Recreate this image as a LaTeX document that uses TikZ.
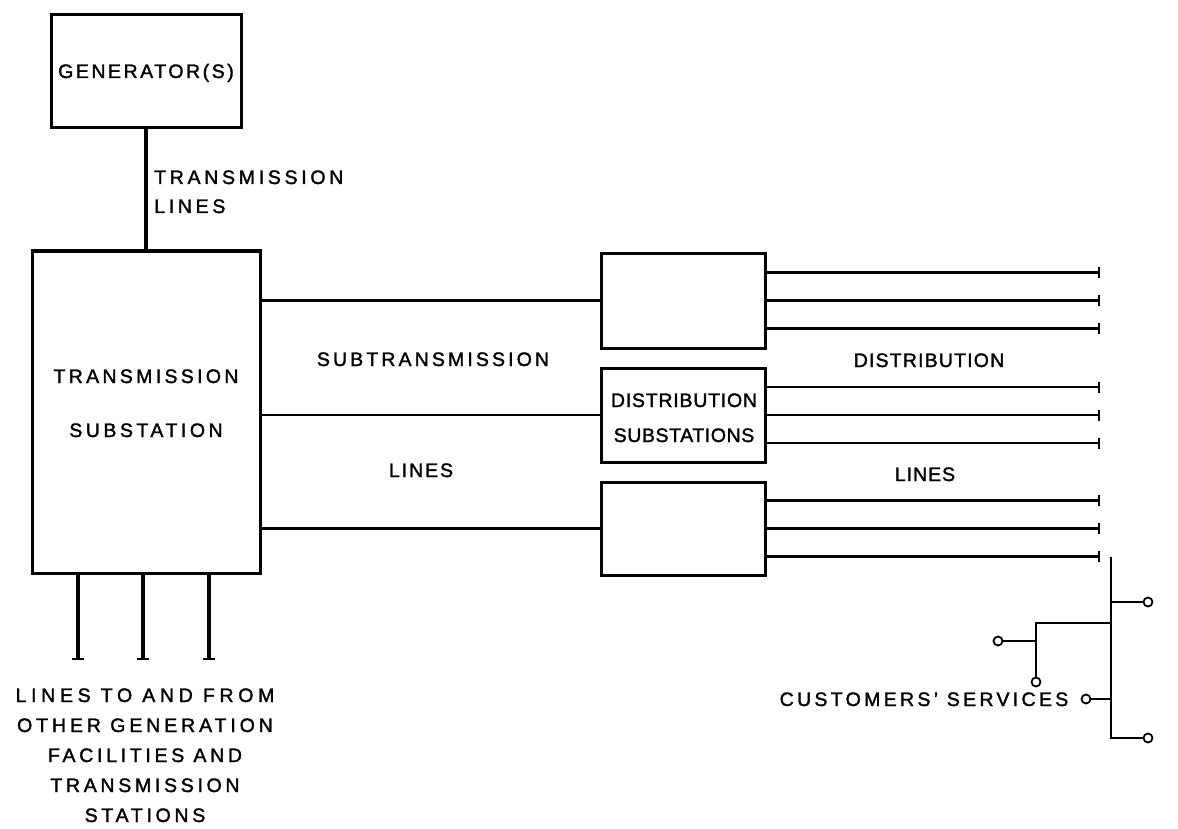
\documentclass[tikz,border=0pt]{standalone}
\usepackage{fontspec}
\setmainfont{Liberation Sans}[FakeBold=1.6]
\usetikzlibrary{arrows.meta}
\begin{document}
\begin{tikzpicture}[x=1pt,y=-1pt,
  box/.style={draw, line width=3pt, inner sep=0pt},
  wire/.style={line width=2.3pt},
  heavy/.style={line width=3.8pt},
  endbar/.style={wire, -{Bar[width=11pt,line width=2pt]}},
  footbar/.style={heavy, -{Bar[width=12pt,line width=2pt]}},
  lbl/.style={font=\fontsize{19.5}{24}\selectfont\addfontfeature{LetterSpace=#1},
              inner sep=0pt, anchor=base},
  lbl/.default=17,
  lblw/.style={lbl=#1, anchor=base west},
  lblw/.default=19,
  term/.style={circle, draw, line width=1.8pt, minimum size=9pt, inner sep=0pt}]
\useasboundingbox (0,0) rectangle (1178,829);

% boxes
\node[box, minimum width=190pt, minimum height=113pt] (gen) at (146,71) {};
\node[box, minimum width=228pt, minimum height=322pt] (tsub) at (146,412) {};
\node[box, minimum width=164pt, minimum height=95pt] (d1) at (683,300.5) {};
\node[box, minimum width=164pt, minimum height=94pt] (d2) at (683,415) {};
\node[box, minimum width=164pt, minimum height=93pt] (d3) at (683,528.5) {};

% box texts
\node[lbl=13] (genT) at (146,78) {GENERATOR(S)};
\node[lbl=17] (tsubA) at (146,383) {TRANSMISSION};
\node[lbl=18] (tsubB) at (146,437) {SUBSTATION};
\node[lbl=4] (d2A) at (684,407) {DISTRIBUTION};
\node[lbl=3] (d2B) at (684,442) {SUBSTATIONS};

% line labels
\node[lblw=19] (tlA) at (154,184) {TRANSMISSION};
\node[lblw=19] (tlB) at (154,213) {LINES};
\node[lbl=16] (subA) at (433,366) {SUBTRANSMISSION};
\node[lbl=10] (subB) at (421,477) {LINES};
\node[lbl=6] (disA) at (929,367) {DISTRIBUTION};
\node[lbl=5] (disB) at (925,481) {LINES};
\node[lbl=17] (cust) at (924,706) {CUSTOMERS' SERVICES};
\node[lbl=24] (oth1) at (145,702) {LINES TO AND FROM};
\node[lbl=20] (oth2) at (145,732) {OTHER GENERATION};
\node[lbl=19] (oth3) at (145,762) {FACILITIES AND};
\node[lbl=19] (oth4) at (145,792) {TRANSMISSION};
\node[lbl=19] (oth5) at (145,822) {STATIONS};

% generator to transmission substation
\draw[heavy] (gen.south) -- (tsub.north);

% subtransmission lines
\draw[wire] (tsub.east |- d1.west) -- (d1.west);
\draw[wire] (tsub.east |- d2.west) -- (d2.west);
\draw[wire] (tsub.east |- d3.west) -- (d3.west);

% lines to other stations
\coordinate (legbase) at (0,660);
\foreach \x [count=\i] in {78,143,209} {
  \coordinate (legtop\i) at (\x,573);
  \draw[footbar] (legtop\i) -- (legtop\i |- legbase);
}

% distribution lines
\coordinate (rim) at (1100,0);
\foreach \b in {1,2,3} {
  \foreach \s [count=\k] in {28,0,-28} {
    \coordinate (o\b\k) at ([yshift=\s pt]d\b.east);
    \draw[endbar] (o\b\k) -- (o\b\k -| rim);
  }
}

% customers' services
\coordinate (j0) at (1111,0);
\coordinate (cA) at (1111,602);
\coordinate (cB) at (1111,623);
\coordinate (cC) at (1036,623);
\coordinate (cD) at (1036,641);
\coordinate (cE) at (1111,699);
\coordinate (cF) at (1111,738);
\node[term] (t1) at (1148,602) {};
\node[term] (t2) at (1036,682) {};
\node[term] (t3) at (998,641) {};
\node[term] (t4) at (1086,699) {};
\node[term] (t5) at (1148,738) {};

\draw[wire, line width=2.8pt] (o33 -| j0) -- (cF) -- (t5);
\draw[wire] (cA) -- (t1);
\draw[wire] (cB) -- (cC) -- (t2);
\draw[wire] (cD) -- (t3);
\draw[wire] (cE) -- (t4);
\end{tikzpicture}
\end{document}
